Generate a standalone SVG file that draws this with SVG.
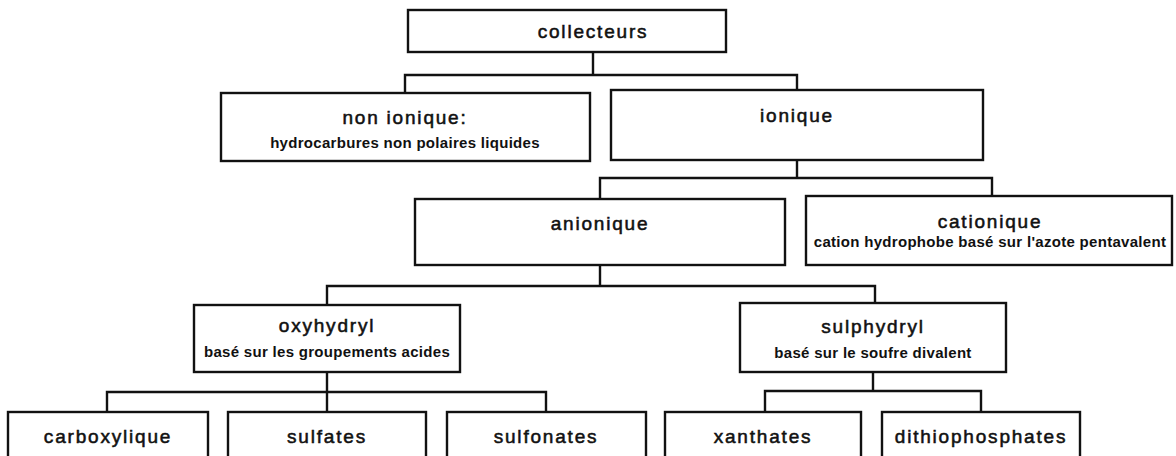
<svg xmlns="http://www.w3.org/2000/svg" width="1176" height="456" viewBox="0 0 1176 456">
<style>
.box{fill:#fff;stroke:#111;stroke-width:2.4}
.ln{fill:none;stroke:#111;stroke-width:2.4}
.t{font-family:"Liberation Sans",Arial,sans-serif;font-size:19px;letter-spacing:1.8px;fill:#111;stroke:#111;stroke-width:0.55;text-anchor:middle}
.s{font-family:"Liberation Sans",Arial,sans-serif;font-size:15px;font-weight:bold;letter-spacing:0.3px;fill:#111;text-anchor:middle}
</style>
<rect width="1176" height="456" fill="#fff"/>
<g id="connectors">
<path class="ln" d="M593 52V75M405 93V75H797V90"/>
<path class="ln" d="M797 160V178M600 199V178H992V196"/>
<path class="ln" d="M600 265V286M327 305V286H875V303"/>
<path class="ln" d="M327 372V392M107 412V392H546V412M327 392V412"/>
<path class="ln" d="M873 372V391M765 412V391H981V412"/>
</g>
<g id="collecteurs"><rect class="box" x="408" y="10" width="318" height="42"/><text class="t" x="593" y="38">collecteurs</text></g>
<g id="non-ionique"><rect class="box" x="221" y="93" width="369" height="68"/><text class="t" x="405" y="124">non ionique:</text><text class="s" x="405" y="148">hydrocarbures non polaires liquides</text></g>
<g id="ionique"><rect class="box" x="611" y="90" width="372" height="70"/><text class="t" x="797" y="122">ionique</text></g>
<g id="anionique"><rect class="box" x="415" y="199" width="370" height="66"/><text class="t" x="600" y="230">anionique</text></g>
<g id="cationique"><rect class="box" x="806" y="196" width="366" height="69"/><text class="t" x="990" y="228">cationique</text><text class="s" x="990" y="247">cation hydrophobe basé sur l'azote pentavalent</text></g>
<g id="oxyhydryl"><rect class="box" x="194" y="305" width="266" height="67"/><text class="t" x="327" y="332">oxyhydryl</text><text class="s" x="327" y="357">basé sur les groupements acides</text></g>
<g id="sulphydryl"><rect class="box" x="740" y="303" width="266" height="69"/><text class="t" x="873" y="333">sulphydryl</text><text class="s" x="873" y="358">basé sur le soufre divalent</text></g>
<g id="carboxylique"><rect class="box" x="8" y="412" width="200" height="50"/><text class="t" x="108" y="443">carboxylique</text></g>
<g id="sulfates"><rect class="box" x="228" y="412" width="198" height="50"/><text class="t" x="327" y="443">sulfates</text></g>
<g id="sulfonates"><rect class="box" x="447" y="412" width="199" height="50"/><text class="t" x="546" y="443">sulfonates</text></g>
<g id="xanthates"><rect class="box" x="665" y="412" width="196" height="50"/><text class="t" x="763" y="443">xanthates</text></g>
<g id="dithiophosphates"><rect class="box" x="882" y="412" width="198" height="50"/><text class="t" x="981" y="443">dithiophosphates</text></g>
</svg>
